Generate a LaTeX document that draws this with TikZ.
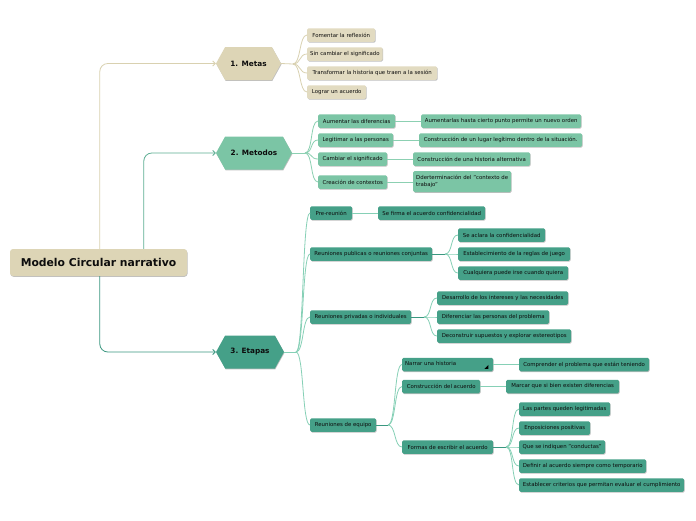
\documentclass[tikz,border=0pt]{standalone}
\usepackage{fontspec}
\setmainfont{DejaVu Sans}
\usetikzlibrary{shapes.symbols,shadows,arrows.meta,calc}
\definecolor{cBeige}{HTML}{DDD5B6}
\definecolor{cBeigeLeaf}{HTML}{E2DBC1}
\definecolor{cBeigeLine}{HTML}{D9D1B0}
\definecolor{cMint}{HTML}{7BC5A5}
\definecolor{cMintLine}{HTML}{8CD0B2}
\definecolor{cTeal}{HTML}{45A088}
\definecolor{cTealLine}{HTML}{86D0B6}
\definecolor{cTealDark}{HTML}{3B9780}
\definecolor{cMintDark}{HTML}{5DAE93}
\tikzset{
  shade/.style={drop shadow={shadow xshift=0.5pt,shadow yshift=-0.8pt,opacity=0.25,fill=black}},
  leaf/.style={rectangle,rounded corners=1.5pt,inner xsep=3pt,inner ysep=0pt,
    minimum height=13.5pt,anchor=west,font=\fontsize{5.4}{6.5}\selectfont,text=black!95,shade},
  bleaf/.style={leaf,fill=cBeigeLeaf},
  mleaf/.style={leaf,fill=cMint},
  tleaf/.style={leaf,fill=cTeal},
  hexa/.style={signal,signal to=east and west,signal pointer angle=122,inner sep=0pt,
    minimum height=33pt,font=\fontsize{7.3}{8}\selectfont\bfseries,text=black!95,shade},
  rootbox/.style={rectangle,rounded corners=3pt,fill=cBeige,minimum width=177pt,minimum height=27pt,
    font=\fontsize{10.8}{12}\selectfont\bfseries,text=black!95,shade},
  link/.style={line width=0.8pt},
  arr/.style={link,rounded corners=8pt,-{Straight Barb[length=2.5pt,width=5pt]}},
}
\newcommand\lf[6]{\node[#1,minimum width=#5pt] (#2) at (#3,#4) {#6};}
\newcommand\branch[3]{\draw[link,#1] (#2) .. controls +(8,0) and +(-8,0) .. (#3.west);}
\begin{document}
\begin{tikzpicture}[x=1pt,y=-1pt]
\useasboundingbox[fill=white] (0,0) rectangle (696,520);

% root
\node[rootbox] (root) at (98.5,262.5) {Modelo Circular narrativo};

% main hexagons
\node[hexa,fill=cBeige,minimum width=65pt] (metas) at (248.5,63.5) {1. Metas};
\node[hexa,fill=cMint,minimum width=76pt] (metodos) at (254,153) {2. Metodos};
\node[hexa,fill=cTeal,minimum width=68pt] (etapas) at (250,352) {3. Etapas};

\draw[arr,cBeigeLine] ([xshift=90pt]root.north west) |- (metas.west);
\draw[arr,cMintDark] ([xshift=134pt]root.north west) |- (metodos.west);
\draw[arr,cTealDark] ([xshift=90pt]root.south west) |- (etapas.west);

% Metas children
\lf{bleaf}{m1}{307}{35}{68}{Fomentar la reflexión}
\lf{bleaf}{m2}{307}{54}{75}{Sin cambiar el significado}
\lf{bleaf}{m3}{307}{73}{130}{Transformar la historia que traen a la sesión}
\lf{bleaf}{m4}{307}{92}{59}{Lograr un acuerdo}
\coordinate (hm) at (293,64);
\draw[link,cBeigeLine] (metas.east) -- (hm);
\foreach \c in {m1,m2,m3,m4}{\branch{cBeigeLine}{hm}{\c}}

% Metodos children
\lf{mleaf}{d1}{318}{121}{77}{Aumentar las diferencias}
\lf{mleaf}{d2}{318}{140}{75}{Legitimar a las personas}
\lf{mleaf}{d3}{318}{159}{69}{Cambiar el significado}
\lf{mleaf}{d4}{318}{182}{69}{Creación de contextos}
\lf{mleaf}{dd1}{421}{121}{160}{Aumentarlas hasta cierto punto permite un nuevo orden}
\lf{mleaf}{dd2}{419}{140}{163}{Construcción de un lugar legítimo dentro de la situación.}
\lf{mleaf}{dd3}{413}{159}{117}{Construcción de una historia alternativa}
\node[mleaf,minimum width=98pt,minimum height=21pt,align=left] (dd4) at (413,181.5) {Dderterminación del "contexto de\\trabajo"};
\coordinate (hd) at (305,153);
\draw[link,cMintLine] (metodos.east) -- (hd);
\foreach \c in {d1,d2,d3,d4}{\branch{cMintLine}{hd}{\c}}
\draw[link,cMintLine] (d1.east) -- (dd1.west);
\draw[link,cMintLine] (d2.east) -- (dd2.west);
\draw[link,cMintLine] (d3.east) -- (dd3.west);
\draw[link,cMintLine] (d4.east) -- (d4.east -| dd4.west);

% Etapas children
\lf{tleaf}{e1}{310}{213}{42}{Pre-reunión}
\lf{tleaf}{e2}{310}{254}{122}{Reuniones publicas o reuniones conjuntas}
\lf{tleaf}{e3}{310}{317}{101}{Reuniones privadas o individuales}
\lf{tleaf}{e4}{310}{425}{66}{Reuniones de equipo}
\coordinate (he) at (296,352);
\draw[link,cTealLine] (etapas.east) -- (he);
\foreach \c in {e1,e2,e3,e4}{\branch{cTealLine}{he}{\c}}

\lf{tleaf}{e11}{378}{213}{107}{Se firma el acuerdo confidencialidad}
\draw[link,cTealLine] (e1.east) -- (e11.west);

\lf{tleaf}{e21}{458}{235}{87}{Se aclara la confidencialidad}
\lf{tleaf}{e22}{458}{254}{112}{Establecimiento de la reglas de juego}
\lf{tleaf}{e23}{458}{273}{110}{Cualquiera puede irse cuando quiera}
\coordinate (he2) at (445,254);
\draw[link,cTealDark] (e2.east) -- (he2);
\foreach \c in {e21,e22,e23}{\branch{cTealLine}{he2}{\c}}

\lf{tleaf}{e31}{437}{298}{131}{Desarrollo de los intereses y las necesidades}
\lf{tleaf}{e32}{437}{317}{112}{Diferenciar las personas del problema}
\lf{tleaf}{e33}{437}{336}{134}{Deconstruir supuestos y explorar estereotipos}
\coordinate (he3) at (424,317);
\draw[link,cTealDark] (e3.east) -- (he3);
\foreach \c in {e31,e32,e33}{\branch{cTealLine}{he3}{\c}}

\node[tleaf,minimum width=91pt] (e41) at (402,364.5) {\raisebox{1.5pt}{\makebox[85pt][l]{Narrar una historia}}};
\fill[black] ([shift={(-9pt,2.5pt)}]e41.south east) -- ++(4,0) -- ++(0,-4) -- cycle;
\lf{tleaf}{e42}{402}{386.5}{78}{Construcción del acuerdo}
\lf{tleaf}{e43}{402}{447}{91}{Formas de escribir el acuerdo}
\coordinate (he4) at (388,425);
\draw[link,cTealDark] (e4.east) -- (he4);
\foreach \c in {e41,e42,e43}{\branch{cTealLine}{he4}{\c}}

\lf{tleaf}{e411}{519}{364.5}{130}{Comprender el problema que están teniendo}
\lf{tleaf}{e421}{506}{386.5}{113}{Marcar que si bien existen diferencias}
\draw[link,cTealLine] (e41.east) -- (e411.west);
\draw[link,cTealLine] (e42.east) -- (e421.west);

\lf{tleaf}{e431}{519}{409}{91}{Las partes queden legitimadas}
\lf{tleaf}{e432}{519}{428}{71}{Enposiciones positivas}
\lf{tleaf}{e433}{519}{447}{86}{Que se indiquen "conductas"}
\lf{tleaf}{e434}{519}{466}{127}{Definir al acuerdo siempre como temporario}
\lf{tleaf}{e435}{519}{485}{165}{Establecer criterios que permitan evaluar el cumplimiento}
\coordinate (he5) at (506,447);
\draw[link,cTealDark] (e43.east) -- (he5);
\foreach \c in {e431,e432,e433,e434,e435}{\branch{cTealLine}{he5}{\c}}
\end{tikzpicture}
\end{document}
